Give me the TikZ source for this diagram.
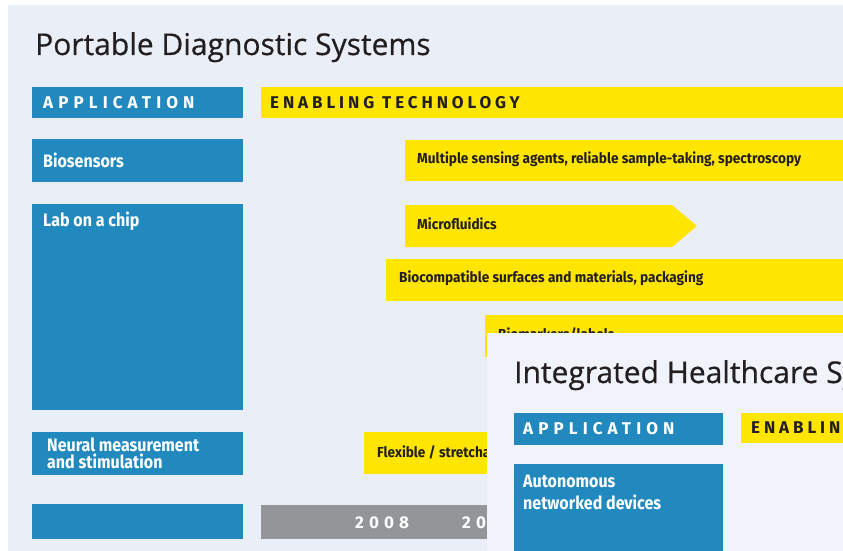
\documentclass[tikz,border=0pt]{standalone}
\usepackage{fontspec}
\setmainfont{Open Sans}
\newfontfamily\titlefont[FakeBold=0.5]{Open Sans}
\newfontfamily\condfont[FakeStretch=0.89]{Fira Sans}
\newfontfamily\narrowfont[FakeStretch=0.94]{Fira Sans}
\newfontfamily\capsfont[LetterSpace=30]{Fira Sans}
\newfontfamily\techcapsfont[LetterSpace=23]{Fira Sans}
\usetikzlibrary{positioning}
\definecolor{panelbg}{RGB}{234,238,247}
\definecolor{overlaybg}{RGB}{240,243,250}
\definecolor{appblue}{RGB}{33,137,190}
\definecolor{techyellow}{RGB}{255,229,0}
\definecolor{yeargray}{RGB}{147,149,152}
\definecolor{inkdark}{RGB}{35,31,32}
\tikzset{
  paneltitle/.style={anchor=base west,inner sep=0,text=inkdark,font=\titlefont\fontsize{30}{34}\selectfont},
  appbox/.style={anchor=north west,inner sep=0,fill=appblue,minimum width=211},
  techbar/.style={anchor=north west,inner sep=0,fill=techyellow},
  headtext/.style={anchor=west,inner sep=0,text=white,font=\capsfont\bfseries\fontsize{17}{20}\selectfont},
  techhead/.style={anchor=west,inner sep=0,text=inkdark,font=\techcapsfont\bfseries\fontsize{17}{20}\selectfont},
  apptext/.style={anchor=west,inner sep=0,text=white,align=left,font=\condfont\bfseries\fontsize{18}{20}\selectfont},
  techtext/.style={anchor=west,inner sep=0,text=inkdark,font=\narrowfont\bfseries\fontsize{14.5}{16}\selectfont},
}
\begin{document}
\begin{tikzpicture}[x=1pt,y=-1pt]
  \useasboundingbox (0,0) rectangle (843,551);
  \clip (0,0) rectangle (843,551);
  \fill[white] (0,0) rectangle (843,551);
  \fill[panelbg] (8,5) rectangle (843,551);

  % portable diagnostic systems
  \node[paneltitle] (pdsTitle) at (35,55) {Portable Diagnostic Systems};

  \node[appbox,minimum height=31] (pdsApp) at (32,87) {};
  \node[headtext] at (43,102.5) {APPLICATION};
  \node[techbar,minimum width=600,minimum height=31] (pdsTech) at (261,87) {};
  \node[techhead] at (270,102.5) {ENABLING TECHNOLOGY};

  \node[appbox,minimum height=43] (bio) at (32,139) {};
  \node[apptext] at (43,160.5) {Biosensors};
  \node[appbox,minimum height=206] (lab) at (32,204) {};
  \node[apptext] at (43,221) {Lab on a chip};
  \node[appbox,minimum height=43] (neural) at (32,432) {};
  \node[apptext] at (47,453) {Neural measurement\\[-3pt]and stimulation};
  \node[appbox,minimum height=35] (blank) at (32,504) {};

  % enabling technology bars
  \node[techbar,minimum width=450,minimum height=41] (sensing) at (405,140) {};
  \node[techtext] at (417,159) {Multiple sensing agents, reliable sample-taking, spectroscopy};
  \fill[techyellow] (405,205) -- (672,205) -- (697,226) -- (672,247) -- (405,247) -- cycle;
  \node[techtext] (micro) at (417,224) {Microfluidics};
  \node[techbar,minimum width=470,minimum height=42] (biocomp) at (386,259) {};
  \node[techtext] at (399,278) {Biocompatible surfaces and materials, packaging};
  \node[techbar,minimum width=370,minimum height=42] (markers) at (485,315) {};
  \node[techtext] at (498,334) {Biomarkers/labels};
  \node[techbar,minimum width=300,minimum height=42] (flex) at (364,432) {};
  \node[techtext] at (377,452) {Flexible / stretchable};

  % time line
  \node[anchor=north west,inner sep=0,fill=yeargray,minimum width=600,minimum height=34] (years) at (261,505) {};
  \foreach \yr/\xpos in {2008/355,2010/462}
    \node[headtext] at (\xpos,522.5) {\yr};

  % integrated healthcare systems, laid over the top
  \fill[overlaybg] (487,333) rectangle (843,551);
  \node[paneltitle] (ihsTitle) at (514,383) {Integrated Healthcare Systems};
  \node[appbox,minimum width=209,minimum height=32] (ihsApp) at (514,413) {};
  \node[headtext] at (523,429) {APPLICATION};
  \node[techbar,minimum width=200,minimum height=30] (ihsTech) at (741,413) {};
  \node[techhead] at (751,428) {ENABLING TECHNOLOGY};
  \node[appbox,minimum width=209,minimum height=100] (auto) at (514,464) {};
  \node[apptext,anchor=north west] at (523,475) {Autonomous\\[2pt]networked devices};
\end{tikzpicture}
\end{document}
